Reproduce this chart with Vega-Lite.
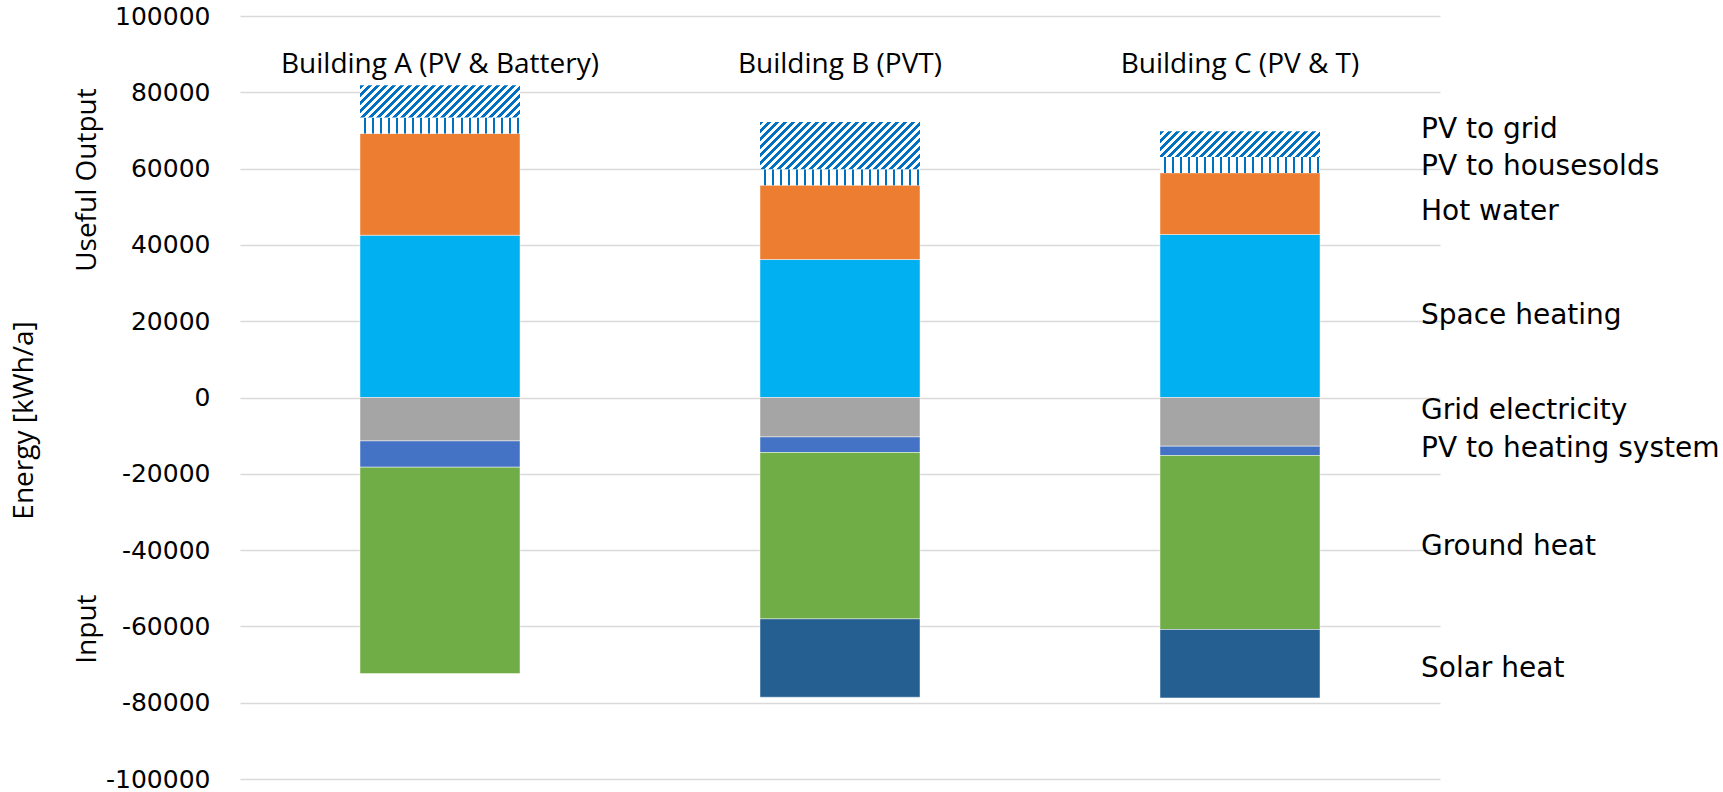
{
  "$schema": "https://vega.github.io/schema/vega-lite/v6.json",
  "width": 1200,
  "height": 763,
  "autosize": {"type": "none"},
  "padding": {"left": 240, "top": 16, "right": 283, "bottom": 13},
  "background": "white",
  "config": {"view": {"stroke": null}},
  "datasets": {
    "energy": [
      {"building": "Building A (PV & Battery)", "category": "Space heating", "value": 42540, "order": 1},
      {"building": "Building A (PV & Battery)", "category": "Hot water", "value": 26660, "order": 2},
      {"building": "Building A (PV & Battery)", "category": "PV to households", "value": 4220, "order": 3},
      {"building": "Building A (PV & Battery)", "category": "PV to grid", "value": 8440, "order": 4},
      {"building": "Building A (PV & Battery)", "category": "Grid electricity", "value": -11380, "order": 5},
      {"building": "Building A (PV & Battery)", "category": "PV to heating system", "value": -6890, "order": 6},
      {"building": "Building A (PV & Battery)", "category": "Ground heat", "value": -54080, "order": 7},
      {"building": "Building B (PVT)", "category": "Space heating", "value": 36170, "order": 1},
      {"building": "Building B (PVT)", "category": "Hot water", "value": 19480, "order": 2},
      {"building": "Building B (PVT)", "category": "PV to households", "value": 4190, "order": 3},
      {"building": "Building B (PVT)", "category": "PV to grid", "value": 12400, "order": 4},
      {"building": "Building B (PVT)", "category": "Grid electricity", "value": -10330, "order": 5},
      {"building": "Building B (PVT)", "category": "PV to heating system", "value": -4090, "order": 6},
      {"building": "Building B (PVT)", "category": "Ground heat", "value": -43610, "order": 7},
      {"building": "Building B (PVT)", "category": "Solar heat", "value": -20530, "order": 8},
      {"building": "Building C (PV & T)", "category": "Space heating", "value": 42730, "order": 1},
      {"building": "Building C (PV & T)", "category": "Hot water", "value": 16140, "order": 2},
      {"building": "Building C (PV & T)", "category": "PV to households", "value": 4200, "order": 3},
      {"building": "Building C (PV & T)", "category": "PV to grid", "value": 6730, "order": 4},
      {"building": "Building C (PV & T)", "category": "Grid electricity", "value": -12770, "order": 5},
      {"building": "Building C (PV & T)", "category": "PV to heating system", "value": -2430, "order": 6},
      {"building": "Building C (PV & T)", "category": "Ground heat", "value": -45610, "order": 7},
      {"building": "Building C (PV & T)", "category": "Solar heat", "value": -17930, "order": 8}
    ],
    "labels": [
      {"label": "PV to grid", "pos": 70200},
      {"label": "PV to housesolds", "pos": 60500},
      {"label": "Hot water", "pos": 48700},
      {"label": "Space heating", "pos": 21440},
      {"label": "Grid electricity", "pos": -3460},
      {"label": "PV to heating system", "pos": -13550},
      {"label": "Ground heat", "pos": -39240},
      {"label": "Solar heat", "pos": -71220}
    ],
    "sides": [
      {"label": "Useful Output", "pos": 57000},
      {"label": "Input", "pos": -60700}
    ]
  },
  "layer": [
    {
      "data": {"name": "energy"},
      "transform": [
        {"stack": "value", "groupby": ["building"], "sort": [{"field": "order", "order": "ascending"}], "as": ["v0", "v1"]},
        {"filter": "datum.category != 'PV to grid' && datum.category != 'PV to households'"}
      ],
      "mark": {"type": "bar", "stroke": "#ffffff", "strokeWidth": 1, "strokeOpacity": 0.45},
      "encoding": {
        "x": {
          "field": "building", "type": "nominal", "sort": null, "title": null,
          "scale": {"paddingInner": 0.6, "paddingOuter": 0.3},
          "axis": {"orient": "top", "offset": -56, "domain": false, "ticks": false, "tickSize": 0, "grid": false, "labelPadding": 0, "labelBaseline": "alphabetic", "labelAngle": 0, "labelFont": "Open Sans", "labelFontSize": 28, "labelColor": "#000000", "labelLimit": 0, "title": null}
        },
        "y": {
          "field": "v1", "type": "quantitative", "title": "Energy [kWh/a]",
          "scale": {"domain": [-100000, 100000], "nice": false, "zero": false},
          "axis": {
            "values": [-100000, -80000, -60000, -40000, -20000, 0, 20000, 40000, 60000, 80000, 100000],
            "labelExpr": "'' + datum.value",
            "domain": false, "ticks": false, "grid": true, "gridColor": "#d9d9d9", "gridWidth": 1.5,
            "labelFont": "DejaVu Sans", "labelFontSize": 25, "labelColor": "#000000", "labelPadding": 30,
            "labelFlush": false, "labelOverlap": false, "labelBound": false,
            "title": "Energy [kWh/a]", "titleFont": "Open Sans", "titleFontSize": 28, "titleFontWeight": "normal", "titleColor": "#000000",
            "titleAngle": 270, "titleX": -216, "titleY": 404, "titleAlign": "center", "titleBaseline": "middle"
          }
        },
        "y2": {"field": "v0"},
        "color": {
          "field": "category", "type": "nominal",
          "scale": {
            "domain": ["Space heating", "Hot water", "Grid electricity", "PV to heating system", "Ground heat", "Solar heat"],
            "range": ["#00b0f0", "#ed7d31", "#a5a5a5", "#4472c4", "#70ad47", "#255e91"]
          },
          "legend": null
        }
      }
    },
    {
      "data": {"name": "energy"},
      "transform": [
        {"stack": "value", "groupby": ["building"], "sort": [{"field": "order", "order": "ascending"}], "as": ["v0", "v1"]},
        {"filter": "datum.category == 'PV to households'"}
      ],
      "mark": {"type": "bar", "fill": {"gradient": "linear", "x1": 0, "y1": 0, "x2": 1, "y2": 0, "stops": [
        {"offset": 0, "color": "#ffffff"},
        {"offset": 0.0231, "color": "#ffffff"}, {"offset": 0.0231, "color": "#0070c0"}, {"offset": 0.0356, "color": "#0070c0"}, {"offset": 0.0356, "color": "#ffffff"},
        {"offset": 0.0736, "color": "#ffffff"}, {"offset": 0.0736, "color": "#0070c0"}, {"offset": 0.0861, "color": "#0070c0"}, {"offset": 0.0861, "color": "#ffffff"},
        {"offset": 0.1240, "color": "#ffffff"}, {"offset": 0.1240, "color": "#0070c0"}, {"offset": 0.1365, "color": "#0070c0"}, {"offset": 0.1365, "color": "#ffffff"},
        {"offset": 0.1745, "color": "#ffffff"}, {"offset": 0.1745, "color": "#0070c0"}, {"offset": 0.1870, "color": "#0070c0"}, {"offset": 0.1870, "color": "#ffffff"},
        {"offset": 0.2249, "color": "#ffffff"}, {"offset": 0.2249, "color": "#0070c0"}, {"offset": 0.2374, "color": "#0070c0"}, {"offset": 0.2374, "color": "#ffffff"},
        {"offset": 0.2753, "color": "#ffffff"}, {"offset": 0.2753, "color": "#0070c0"}, {"offset": 0.2878, "color": "#0070c0"}, {"offset": 0.2878, "color": "#ffffff"},
        {"offset": 0.3258, "color": "#ffffff"}, {"offset": 0.3258, "color": "#0070c0"}, {"offset": 0.3383, "color": "#0070c0"}, {"offset": 0.3383, "color": "#ffffff"},
        {"offset": 0.3762, "color": "#ffffff"}, {"offset": 0.3762, "color": "#0070c0"}, {"offset": 0.3887, "color": "#0070c0"}, {"offset": 0.3887, "color": "#ffffff"},
        {"offset": 0.4267, "color": "#ffffff"}, {"offset": 0.4267, "color": "#0070c0"}, {"offset": 0.4392, "color": "#0070c0"}, {"offset": 0.4392, "color": "#ffffff"},
        {"offset": 0.4771, "color": "#ffffff"}, {"offset": 0.4771, "color": "#0070c0"}, {"offset": 0.4896, "color": "#0070c0"}, {"offset": 0.4896, "color": "#ffffff"},
        {"offset": 0.5276, "color": "#ffffff"}, {"offset": 0.5276, "color": "#0070c0"}, {"offset": 0.5401, "color": "#0070c0"}, {"offset": 0.5401, "color": "#ffffff"},
        {"offset": 0.5780, "color": "#ffffff"}, {"offset": 0.5780, "color": "#0070c0"}, {"offset": 0.5905, "color": "#0070c0"}, {"offset": 0.5905, "color": "#ffffff"},
        {"offset": 0.6284, "color": "#ffffff"}, {"offset": 0.6284, "color": "#0070c0"}, {"offset": 0.6409, "color": "#0070c0"}, {"offset": 0.6409, "color": "#ffffff"},
        {"offset": 0.6789, "color": "#ffffff"}, {"offset": 0.6789, "color": "#0070c0"}, {"offset": 0.6914, "color": "#0070c0"}, {"offset": 0.6914, "color": "#ffffff"},
        {"offset": 0.7293, "color": "#ffffff"}, {"offset": 0.7293, "color": "#0070c0"}, {"offset": 0.7418, "color": "#0070c0"}, {"offset": 0.7418, "color": "#ffffff"},
        {"offset": 0.7798, "color": "#ffffff"}, {"offset": 0.7798, "color": "#0070c0"}, {"offset": 0.7923, "color": "#0070c0"}, {"offset": 0.7923, "color": "#ffffff"},
        {"offset": 0.8302, "color": "#ffffff"}, {"offset": 0.8302, "color": "#0070c0"}, {"offset": 0.8427, "color": "#0070c0"}, {"offset": 0.8427, "color": "#ffffff"},
        {"offset": 0.8806, "color": "#ffffff"}, {"offset": 0.8806, "color": "#0070c0"}, {"offset": 0.8931, "color": "#0070c0"}, {"offset": 0.8931, "color": "#ffffff"},
        {"offset": 0.9311, "color": "#ffffff"}, {"offset": 0.9311, "color": "#0070c0"}, {"offset": 0.9436, "color": "#0070c0"}, {"offset": 0.9436, "color": "#ffffff"},
        {"offset": 0.9815, "color": "#ffffff"}, {"offset": 0.9815, "color": "#0070c0"}, {"offset": 0.9940, "color": "#0070c0"}, {"offset": 0.9940, "color": "#ffffff"},
        {"offset": 1, "color": "#ffffff"}
      ]}},
      "encoding": {
        "x": {"field": "building", "type": "nominal", "sort": null, "title": null},
        "y": {"field": "v1", "type": "quantitative", "title": "Energy [kWh/a]", "scale": {"domain": [-100000, 100000], "nice": false, "zero": false}},
        "y2": {"field": "v0"}
      }
    },
    {
      "data": {"name": "energy"},
      "transform": [
        {"stack": "value", "groupby": ["building"], "sort": [{"field": "order", "order": "ascending"}], "as": ["v0", "v1"]},
        {"filter": "datum.category == 'PV to grid' && datum.building == 'Building A (PV & Battery)'"}
      ],
      "mark": {"type": "bar", "fill": {"gradient": "linear", "x1": 0, "y1": 0, "x2": 1.1538, "y2": 0.2308, "stops": [
        {"offset": 0, "color": "#0070c0"}, {"offset": 0.02083, "color": "#0070c0"}, {"offset": 0.02083, "color": "#ffffff"}, {"offset": 0.04167, "color": "#ffffff"},
        {"offset": 0.04167, "color": "#0070c0"}, {"offset": 0.0625, "color": "#0070c0"}, {"offset": 0.0625, "color": "#ffffff"}, {"offset": 0.08333, "color": "#ffffff"},
        {"offset": 0.08333, "color": "#0070c0"}, {"offset": 0.10417, "color": "#0070c0"}, {"offset": 0.10417, "color": "#ffffff"}, {"offset": 0.125, "color": "#ffffff"},
        {"offset": 0.125, "color": "#0070c0"}, {"offset": 0.14583, "color": "#0070c0"}, {"offset": 0.14583, "color": "#ffffff"}, {"offset": 0.16667, "color": "#ffffff"},
        {"offset": 0.16667, "color": "#0070c0"}, {"offset": 0.1875, "color": "#0070c0"}, {"offset": 0.1875, "color": "#ffffff"}, {"offset": 0.20833, "color": "#ffffff"},
        {"offset": 0.20833, "color": "#0070c0"}, {"offset": 0.22917, "color": "#0070c0"}, {"offset": 0.22917, "color": "#ffffff"}, {"offset": 0.25, "color": "#ffffff"},
        {"offset": 0.25, "color": "#0070c0"}, {"offset": 0.27083, "color": "#0070c0"}, {"offset": 0.27083, "color": "#ffffff"}, {"offset": 0.29167, "color": "#ffffff"},
        {"offset": 0.29167, "color": "#0070c0"}, {"offset": 0.3125, "color": "#0070c0"}, {"offset": 0.3125, "color": "#ffffff"}, {"offset": 0.33333, "color": "#ffffff"},
        {"offset": 0.33333, "color": "#0070c0"}, {"offset": 0.35417, "color": "#0070c0"}, {"offset": 0.35417, "color": "#ffffff"}, {"offset": 0.375, "color": "#ffffff"},
        {"offset": 0.375, "color": "#0070c0"}, {"offset": 0.39583, "color": "#0070c0"}, {"offset": 0.39583, "color": "#ffffff"}, {"offset": 0.41667, "color": "#ffffff"},
        {"offset": 0.41667, "color": "#0070c0"}, {"offset": 0.4375, "color": "#0070c0"}, {"offset": 0.4375, "color": "#ffffff"}, {"offset": 0.45833, "color": "#ffffff"},
        {"offset": 0.45833, "color": "#0070c0"}, {"offset": 0.47917, "color": "#0070c0"}, {"offset": 0.47917, "color": "#ffffff"}, {"offset": 0.5, "color": "#ffffff"},
        {"offset": 0.5, "color": "#0070c0"}, {"offset": 0.52083, "color": "#0070c0"}, {"offset": 0.52083, "color": "#ffffff"}, {"offset": 0.54167, "color": "#ffffff"},
        {"offset": 0.54167, "color": "#0070c0"}, {"offset": 0.5625, "color": "#0070c0"}, {"offset": 0.5625, "color": "#ffffff"}, {"offset": 0.58333, "color": "#ffffff"},
        {"offset": 0.58333, "color": "#0070c0"}, {"offset": 0.60417, "color": "#0070c0"}, {"offset": 0.60417, "color": "#ffffff"}, {"offset": 0.625, "color": "#ffffff"},
        {"offset": 0.625, "color": "#0070c0"}, {"offset": 0.64583, "color": "#0070c0"}, {"offset": 0.64583, "color": "#ffffff"}, {"offset": 0.66667, "color": "#ffffff"},
        {"offset": 0.66667, "color": "#0070c0"}, {"offset": 0.6875, "color": "#0070c0"}, {"offset": 0.6875, "color": "#ffffff"}, {"offset": 0.70833, "color": "#ffffff"},
        {"offset": 0.70833, "color": "#0070c0"}, {"offset": 0.72917, "color": "#0070c0"}, {"offset": 0.72917, "color": "#ffffff"}, {"offset": 0.75, "color": "#ffffff"},
        {"offset": 0.75, "color": "#0070c0"}, {"offset": 0.77083, "color": "#0070c0"}, {"offset": 0.77083, "color": "#ffffff"}, {"offset": 0.79167, "color": "#ffffff"},
        {"offset": 0.79167, "color": "#0070c0"}, {"offset": 0.8125, "color": "#0070c0"}, {"offset": 0.8125, "color": "#ffffff"}, {"offset": 0.83333, "color": "#ffffff"},
        {"offset": 0.83333, "color": "#0070c0"}, {"offset": 0.85417, "color": "#0070c0"}, {"offset": 0.85417, "color": "#ffffff"}, {"offset": 0.875, "color": "#ffffff"},
        {"offset": 0.875, "color": "#0070c0"}, {"offset": 0.89583, "color": "#0070c0"}, {"offset": 0.89583, "color": "#ffffff"}, {"offset": 0.91667, "color": "#ffffff"},
        {"offset": 0.91667, "color": "#0070c0"}, {"offset": 0.9375, "color": "#0070c0"}, {"offset": 0.9375, "color": "#ffffff"}, {"offset": 0.95833, "color": "#ffffff"},
        {"offset": 0.95833, "color": "#0070c0"}, {"offset": 0.97917, "color": "#0070c0"}, {"offset": 0.97917, "color": "#ffffff"}, {"offset": 1, "color": "#ffffff"}
      ]}},
      "encoding": {
        "x": {"field": "building", "type": "nominal", "sort": null, "title": null},
        "y": {"field": "v1", "type": "quantitative", "title": "Energy [kWh/a]", "scale": {"domain": [-100000, 100000], "nice": false, "zero": false}},
        "y2": {"field": "v0"}
      }
    },
    {
      "data": {"name": "energy"},
      "transform": [
        {"stack": "value", "groupby": ["building"], "sort": [{"field": "order", "order": "ascending"}], "as": ["v0", "v1"]},
        {"filter": "datum.category == 'PV to grid' && datum.building == 'Building B (PVT)'"}
      ],
      "mark": {"type": "bar", "fill": {"gradient": "linear", "x1": 0, "y1": 0, "x2": 1.1915, "y2": 0.3522, "stops": [
        {"offset": 0, "color": "#0070c0"}, {"offset": 0.0193, "color": "#0070c0"}, {"offset": 0.0193, "color": "#ffffff"}, {"offset": 0.03859, "color": "#ffffff"},
        {"offset": 0.03859, "color": "#0070c0"}, {"offset": 0.05789, "color": "#0070c0"}, {"offset": 0.05789, "color": "#ffffff"}, {"offset": 0.07718, "color": "#ffffff"},
        {"offset": 0.07718, "color": "#0070c0"}, {"offset": 0.09648, "color": "#0070c0"}, {"offset": 0.09648, "color": "#ffffff"}, {"offset": 0.11577, "color": "#ffffff"},
        {"offset": 0.11577, "color": "#0070c0"}, {"offset": 0.13507, "color": "#0070c0"}, {"offset": 0.13507, "color": "#ffffff"}, {"offset": 0.15436, "color": "#ffffff"},
        {"offset": 0.15436, "color": "#0070c0"}, {"offset": 0.17366, "color": "#0070c0"}, {"offset": 0.17366, "color": "#ffffff"}, {"offset": 0.19296, "color": "#ffffff"},
        {"offset": 0.19296, "color": "#0070c0"}, {"offset": 0.21225, "color": "#0070c0"}, {"offset": 0.21225, "color": "#ffffff"}, {"offset": 0.23155, "color": "#ffffff"},
        {"offset": 0.23155, "color": "#0070c0"}, {"offset": 0.25084, "color": "#0070c0"}, {"offset": 0.25084, "color": "#ffffff"}, {"offset": 0.27014, "color": "#ffffff"},
        {"offset": 0.27014, "color": "#0070c0"}, {"offset": 0.28943, "color": "#0070c0"}, {"offset": 0.28943, "color": "#ffffff"}, {"offset": 0.30873, "color": "#ffffff"},
        {"offset": 0.30873, "color": "#0070c0"}, {"offset": 0.32803, "color": "#0070c0"}, {"offset": 0.32803, "color": "#ffffff"}, {"offset": 0.34732, "color": "#ffffff"},
        {"offset": 0.34732, "color": "#0070c0"}, {"offset": 0.36662, "color": "#0070c0"}, {"offset": 0.36662, "color": "#ffffff"}, {"offset": 0.38591, "color": "#ffffff"},
        {"offset": 0.38591, "color": "#0070c0"}, {"offset": 0.40521, "color": "#0070c0"}, {"offset": 0.40521, "color": "#ffffff"}, {"offset": 0.4245, "color": "#ffffff"},
        {"offset": 0.4245, "color": "#0070c0"}, {"offset": 0.4438, "color": "#0070c0"}, {"offset": 0.4438, "color": "#ffffff"}, {"offset": 0.46309, "color": "#ffffff"},
        {"offset": 0.46309, "color": "#0070c0"}, {"offset": 0.48239, "color": "#0070c0"}, {"offset": 0.48239, "color": "#ffffff"}, {"offset": 0.50168, "color": "#ffffff"},
        {"offset": 0.50168, "color": "#0070c0"}, {"offset": 0.52098, "color": "#0070c0"}, {"offset": 0.52098, "color": "#ffffff"}, {"offset": 0.54027, "color": "#ffffff"},
        {"offset": 0.54027, "color": "#0070c0"}, {"offset": 0.55957, "color": "#0070c0"}, {"offset": 0.55957, "color": "#ffffff"}, {"offset": 0.57887, "color": "#ffffff"},
        {"offset": 0.57887, "color": "#0070c0"}, {"offset": 0.59816, "color": "#0070c0"}, {"offset": 0.59816, "color": "#ffffff"}, {"offset": 0.61746, "color": "#ffffff"},
        {"offset": 0.61746, "color": "#0070c0"}, {"offset": 0.63675, "color": "#0070c0"}, {"offset": 0.63675, "color": "#ffffff"}, {"offset": 0.65605, "color": "#ffffff"},
        {"offset": 0.65605, "color": "#0070c0"}, {"offset": 0.67534, "color": "#0070c0"}, {"offset": 0.67534, "color": "#ffffff"}, {"offset": 0.69464, "color": "#ffffff"},
        {"offset": 0.69464, "color": "#0070c0"}, {"offset": 0.71394, "color": "#0070c0"}, {"offset": 0.71394, "color": "#ffffff"}, {"offset": 0.73323, "color": "#ffffff"},
        {"offset": 0.73323, "color": "#0070c0"}, {"offset": 0.75253, "color": "#0070c0"}, {"offset": 0.75253, "color": "#ffffff"}, {"offset": 0.77182, "color": "#ffffff"},
        {"offset": 0.77182, "color": "#0070c0"}, {"offset": 0.79112, "color": "#0070c0"}, {"offset": 0.79112, "color": "#ffffff"}, {"offset": 0.81041, "color": "#ffffff"},
        {"offset": 0.81041, "color": "#0070c0"}, {"offset": 0.82971, "color": "#0070c0"}, {"offset": 0.82971, "color": "#ffffff"}, {"offset": 0.849, "color": "#ffffff"},
        {"offset": 0.849, "color": "#0070c0"}, {"offset": 0.8683, "color": "#0070c0"}, {"offset": 0.8683, "color": "#ffffff"}, {"offset": 0.88759, "color": "#ffffff"},
        {"offset": 0.88759, "color": "#0070c0"}, {"offset": 0.90689, "color": "#0070c0"}, {"offset": 0.90689, "color": "#ffffff"}, {"offset": 0.92618, "color": "#ffffff"},
        {"offset": 0.92618, "color": "#0070c0"}, {"offset": 0.94548, "color": "#0070c0"}, {"offset": 0.94548, "color": "#ffffff"}, {"offset": 0.96478, "color": "#ffffff"},
        {"offset": 0.96478, "color": "#0070c0"}, {"offset": 0.98407, "color": "#0070c0"}, {"offset": 0.98407, "color": "#ffffff"}, {"offset": 1, "color": "#ffffff"}
      ]}},
      "encoding": {
        "x": {"field": "building", "type": "nominal", "sort": null, "title": null},
        "y": {"field": "v1", "type": "quantitative", "title": "Energy [kWh/a]", "scale": {"domain": [-100000, 100000], "nice": false, "zero": false}},
        "y2": {"field": "v0"}
      }
    },
    {
      "data": {"name": "energy"},
      "transform": [
        {"stack": "value", "groupby": ["building"], "sort": [{"field": "order", "order": "ascending"}], "as": ["v0", "v1"]},
        {"filter": "datum.category == 'PV to grid' && datum.building == 'Building C (PV & T)'"}
      ],
      "mark": {"type": "bar", "fill": {"gradient": "linear", "x1": 0, "y1": 0, "x2": 1.1314, "y2": 0.1817, "stops": [
        {"offset": 0, "color": "#0070c0"}, {"offset": 0.02154, "color": "#0070c0"}, {"offset": 0.02154, "color": "#ffffff"}, {"offset": 0.04308, "color": "#ffffff"},
        {"offset": 0.04308, "color": "#0070c0"}, {"offset": 0.06462, "color": "#0070c0"}, {"offset": 0.06462, "color": "#ffffff"}, {"offset": 0.08616, "color": "#ffffff"},
        {"offset": 0.08616, "color": "#0070c0"}, {"offset": 0.1077, "color": "#0070c0"}, {"offset": 0.1077, "color": "#ffffff"}, {"offset": 0.12924, "color": "#ffffff"},
        {"offset": 0.12924, "color": "#0070c0"}, {"offset": 0.15078, "color": "#0070c0"}, {"offset": 0.15078, "color": "#ffffff"}, {"offset": 0.17232, "color": "#ffffff"},
        {"offset": 0.17232, "color": "#0070c0"}, {"offset": 0.19386, "color": "#0070c0"}, {"offset": 0.19386, "color": "#ffffff"}, {"offset": 0.2154, "color": "#ffffff"},
        {"offset": 0.2154, "color": "#0070c0"}, {"offset": 0.23694, "color": "#0070c0"}, {"offset": 0.23694, "color": "#ffffff"}, {"offset": 0.25848, "color": "#ffffff"},
        {"offset": 0.25848, "color": "#0070c0"}, {"offset": 0.28002, "color": "#0070c0"}, {"offset": 0.28002, "color": "#ffffff"}, {"offset": 0.30156, "color": "#ffffff"},
        {"offset": 0.30156, "color": "#0070c0"}, {"offset": 0.3231, "color": "#0070c0"}, {"offset": 0.3231, "color": "#ffffff"}, {"offset": 0.34464, "color": "#ffffff"},
        {"offset": 0.34464, "color": "#0070c0"}, {"offset": 0.36618, "color": "#0070c0"}, {"offset": 0.36618, "color": "#ffffff"}, {"offset": 0.38772, "color": "#ffffff"},
        {"offset": 0.38772, "color": "#0070c0"}, {"offset": 0.40926, "color": "#0070c0"}, {"offset": 0.40926, "color": "#ffffff"}, {"offset": 0.4308, "color": "#ffffff"},
        {"offset": 0.4308, "color": "#0070c0"}, {"offset": 0.45234, "color": "#0070c0"}, {"offset": 0.45234, "color": "#ffffff"}, {"offset": 0.47388, "color": "#ffffff"},
        {"offset": 0.47388, "color": "#0070c0"}, {"offset": 0.49542, "color": "#0070c0"}, {"offset": 0.49542, "color": "#ffffff"}, {"offset": 0.51696, "color": "#ffffff"},
        {"offset": 0.51696, "color": "#0070c0"}, {"offset": 0.5385, "color": "#0070c0"}, {"offset": 0.5385, "color": "#ffffff"}, {"offset": 0.56004, "color": "#ffffff"},
        {"offset": 0.56004, "color": "#0070c0"}, {"offset": 0.58158, "color": "#0070c0"}, {"offset": 0.58158, "color": "#ffffff"}, {"offset": 0.60312, "color": "#ffffff"},
        {"offset": 0.60312, "color": "#0070c0"}, {"offset": 0.62466, "color": "#0070c0"}, {"offset": 0.62466, "color": "#ffffff"}, {"offset": 0.6462, "color": "#ffffff"},
        {"offset": 0.6462, "color": "#0070c0"}, {"offset": 0.66774, "color": "#0070c0"}, {"offset": 0.66774, "color": "#ffffff"}, {"offset": 0.68928, "color": "#ffffff"},
        {"offset": 0.68928, "color": "#0070c0"}, {"offset": 0.71082, "color": "#0070c0"}, {"offset": 0.71082, "color": "#ffffff"}, {"offset": 0.73236, "color": "#ffffff"},
        {"offset": 0.73236, "color": "#0070c0"}, {"offset": 0.7539, "color": "#0070c0"}, {"offset": 0.7539, "color": "#ffffff"}, {"offset": 0.77544, "color": "#ffffff"},
        {"offset": 0.77544, "color": "#0070c0"}, {"offset": 0.79698, "color": "#0070c0"}, {"offset": 0.79698, "color": "#ffffff"}, {"offset": 0.81852, "color": "#ffffff"},
        {"offset": 0.81852, "color": "#0070c0"}, {"offset": 0.84006, "color": "#0070c0"}, {"offset": 0.84006, "color": "#ffffff"}, {"offset": 0.8616, "color": "#ffffff"},
        {"offset": 0.8616, "color": "#0070c0"}, {"offset": 0.88314, "color": "#0070c0"}, {"offset": 0.88314, "color": "#ffffff"}, {"offset": 0.90468, "color": "#ffffff"},
        {"offset": 0.90468, "color": "#0070c0"}, {"offset": 0.92622, "color": "#0070c0"}, {"offset": 0.92622, "color": "#ffffff"}, {"offset": 0.94776, "color": "#ffffff"},
        {"offset": 0.94776, "color": "#0070c0"}, {"offset": 0.9693, "color": "#0070c0"}, {"offset": 0.9693, "color": "#ffffff"}, {"offset": 0.99084, "color": "#ffffff"},
        {"offset": 0.99084, "color": "#0070c0"}, {"offset": 1, "color": "#0070c0"}
      ]}},
      "encoding": {
        "x": {"field": "building", "type": "nominal", "sort": null, "title": null},
        "y": {"field": "v1", "type": "quantitative", "title": "Energy [kWh/a]", "scale": {"domain": [-100000, 100000], "nice": false, "zero": false}},
        "y2": {"field": "v0"}
      }
    },
    {
      "data": {"name": "labels"},
      "mark": {"type": "text", "align": "left", "baseline": "middle", "dx": -19, "font": "DejaVu Sans", "fontSize": 28, "color": "#000000"},
      "encoding": {
        "x": {"value": "width"},
        "y": {"field": "pos", "type": "quantitative", "title": "Energy [kWh/a]", "scale": {"domain": [-100000, 100000], "nice": false, "zero": false}},
        "text": {"field": "label"}
      }
    },
    {
      "data": {"name": "sides"},
      "mark": {"type": "text", "angle": 270, "align": "center", "baseline": "middle", "dy": -152, "font": "Open Sans", "fontSize": 28, "color": "#000000"},
      "encoding": {
        "x": {"value": 0},
        "y": {"field": "pos", "type": "quantitative", "title": "Energy [kWh/a]", "scale": {"domain": [-100000, 100000], "nice": false, "zero": false}},
        "text": {"field": "label"}
      }
    }
  ]
}
